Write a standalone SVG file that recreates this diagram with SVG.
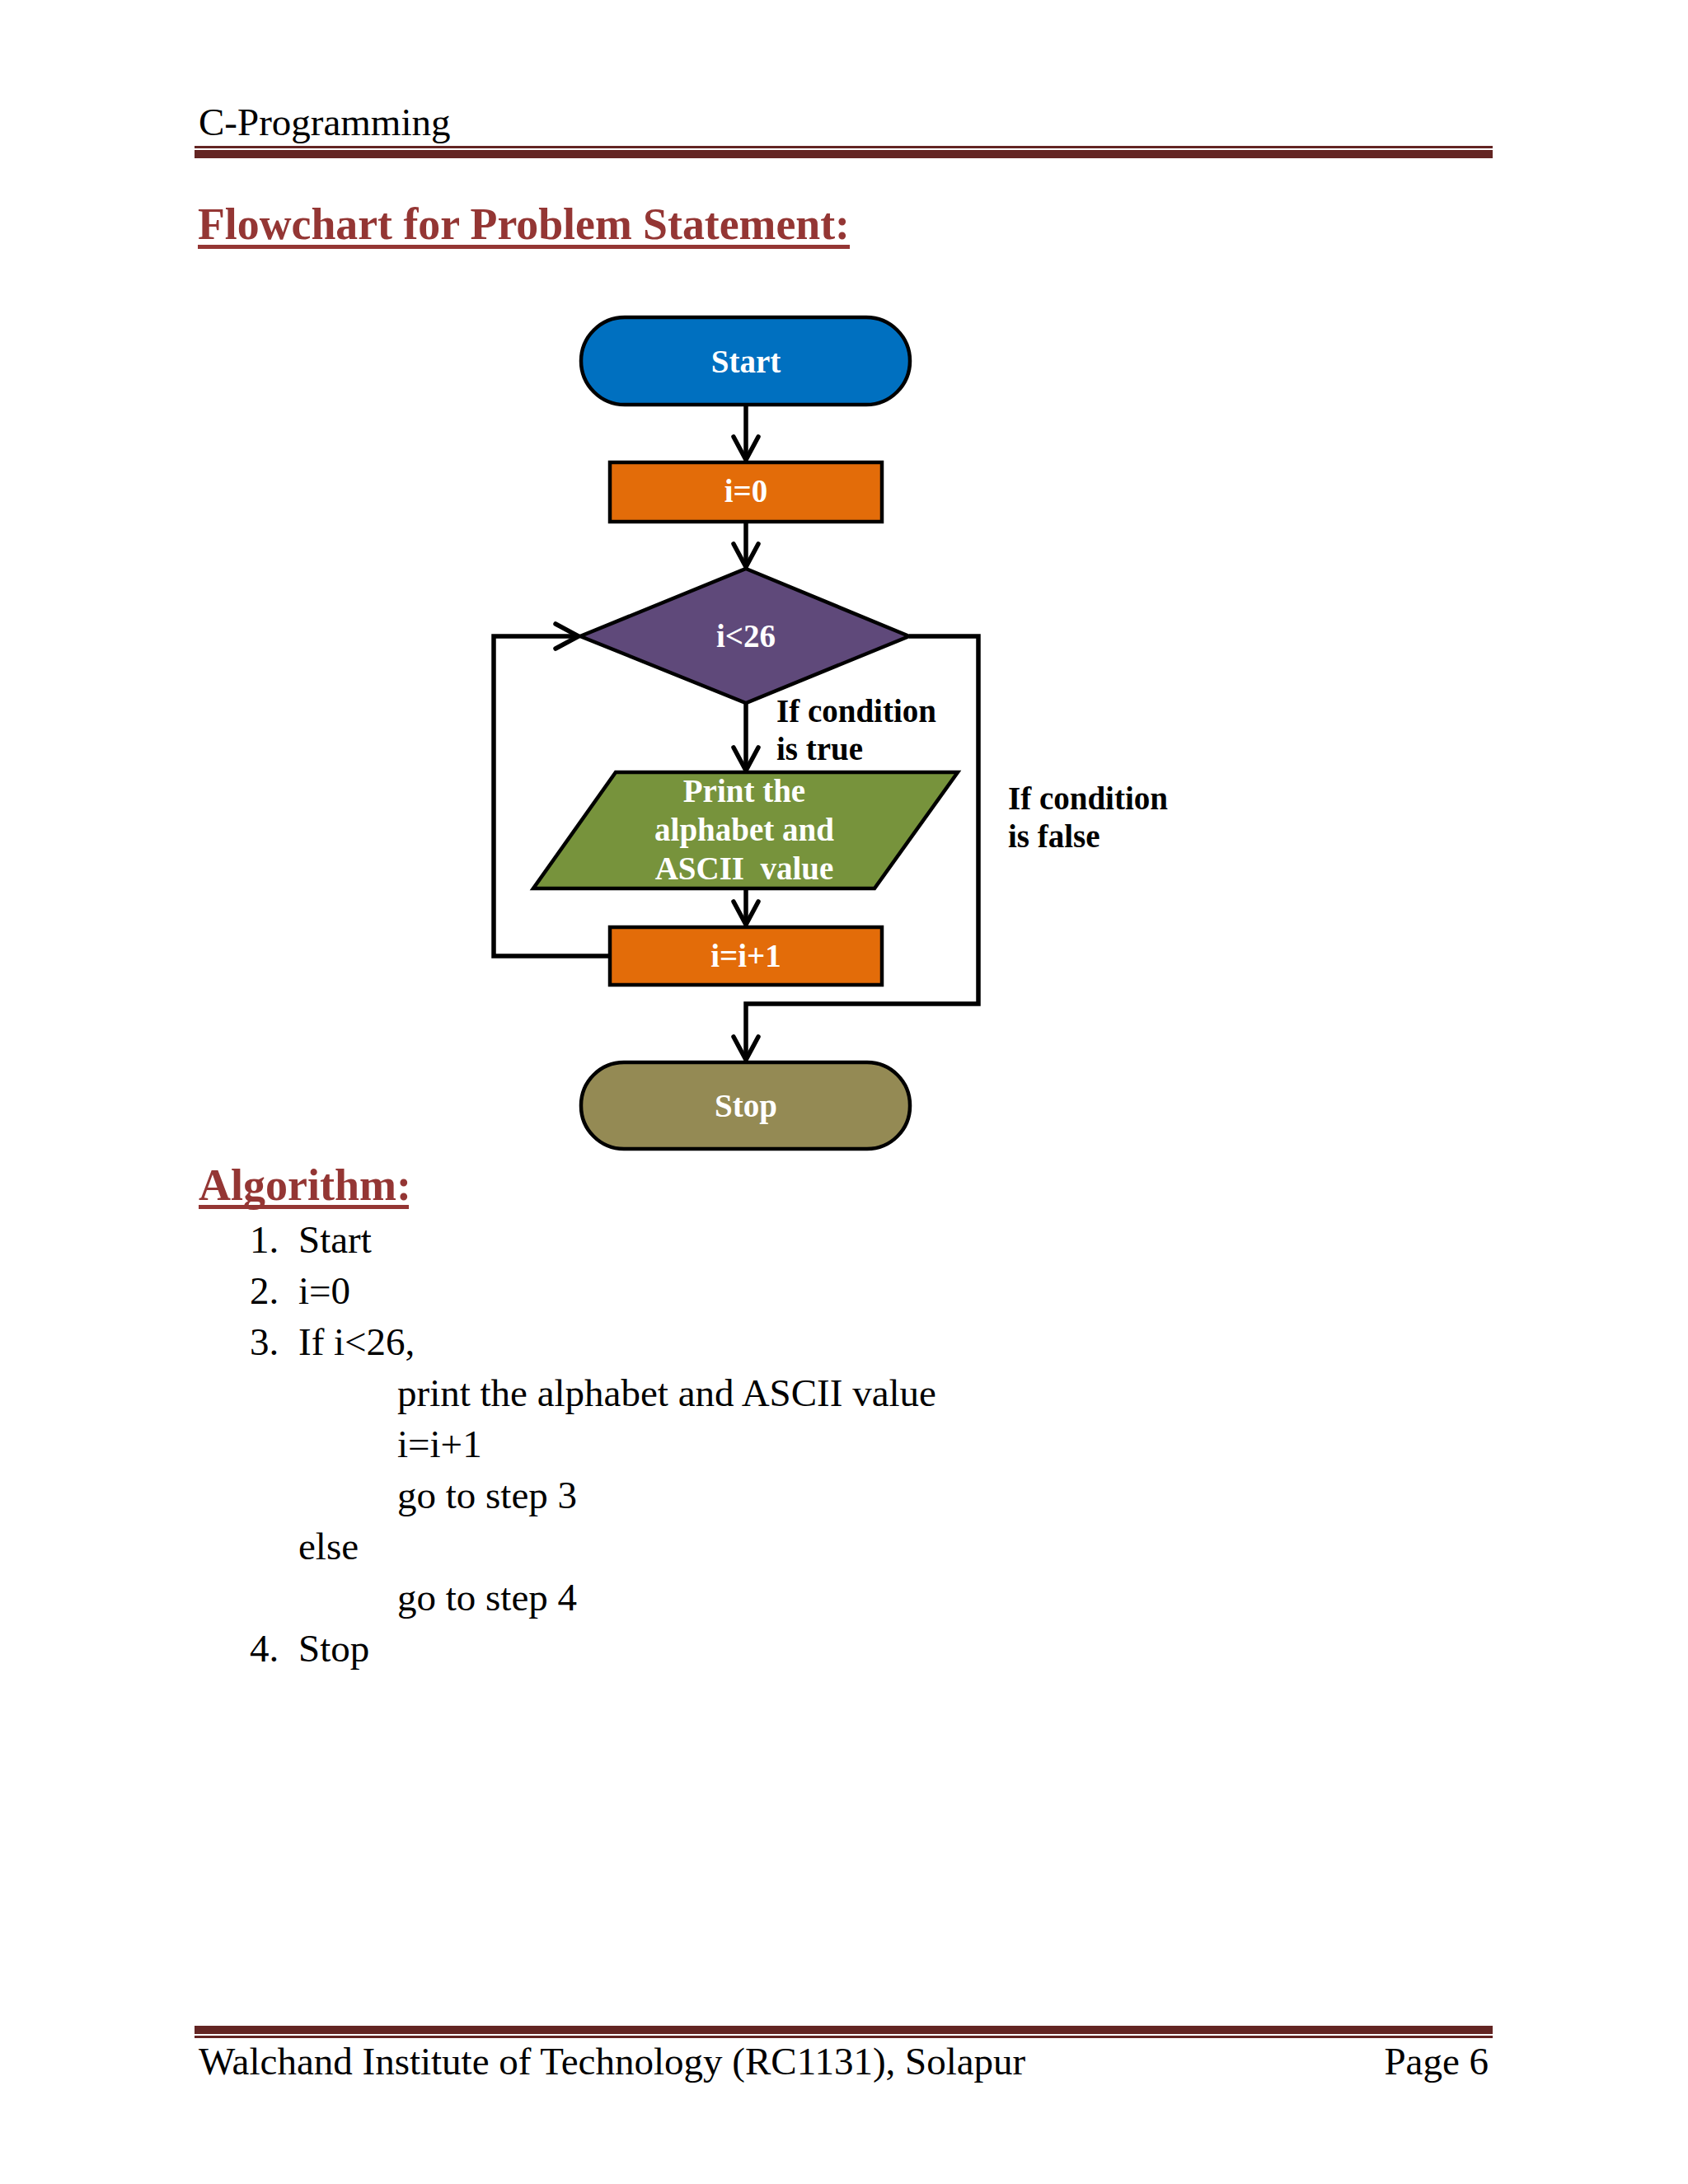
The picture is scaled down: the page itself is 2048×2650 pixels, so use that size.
<svg xmlns="http://www.w3.org/2000/svg" width="2048" height="2650" viewBox="0 0 2048 2650">
<defs>
<style>
.doc{font-family:"Liberation Serif","Times New Roman",serif;font-size:47px;fill:#000}
.head{font-family:"Liberation Serif","Times New Roman",serif;font-size:54px;font-weight:bold;fill:#943634}
.nt{font-family:"Liberation Serif","Times New Roman",serif;font-size:39px;font-weight:bold;fill:#fff;text-anchor:middle}
.lb{font-family:"Liberation Serif","Times New Roman",serif;font-size:39px;font-weight:bold;fill:#000}
.sh{stroke:#000;stroke-width:4.5}
.cn{fill:none;stroke:#000;stroke-width:5.5;stroke-linejoin:miter}
.rule{fill:#632523}
</style>
<marker id="arr" markerUnits="userSpaceOnUse" markerWidth="40" markerHeight="40" viewBox="-32 -20 40 40" refX="0" refY="0" orient="auto" overflow="visible">
<path d="M-28,-15 L0,0 L-28,15" fill="none" stroke="#000" stroke-width="5.5" stroke-linecap="round" stroke-linejoin="miter"/>
</marker>
</defs>
<rect width="2048" height="2650" fill="#fff"/>

<g id="header">
<text class="doc" x="241" y="164">C-Programming</text>
<rect class="rule" x="236" y="177" width="1575" height="3"/>
<rect class="rule" x="236" y="182" width="1575" height="10"/>
</g>

<g id="title">
<text class="head" x="240" y="290" textLength="791" lengthAdjust="spacingAndGlyphs">Flowchart for Problem Statement:</text>
<rect x="240" y="297" width="791" height="5" fill="#943634"/>
</g>

<g id="connectors">
<path class="cn" d="M905,492 V558" marker-end="url(#arr)"/>
<path class="cn" d="M905,634 V688" marker-end="url(#arr)"/>
<path class="cn" d="M905,853 V935" marker-end="url(#arr)"/>
<path class="cn" d="M905,1078 V1122" marker-end="url(#arr)"/>
<path class="cn" d="M740,1160 H599 V772 H702" marker-end="url(#arr)"/>
<path class="cn" d="M1103,772 H1187 V1218 H905 V1286" marker-end="url(#arr)"/>
</g>

<g id="node-start">
<rect class="sh" x="705" y="385" width="399" height="106" rx="53" fill="#0070C0"/>
<text class="nt" x="905" y="452">Start</text>
</g>

<g id="node-init">
<rect class="sh" x="740" y="561" width="330" height="72" fill="#E36C09"/>
<text class="nt" x="905" y="609">i=0</text>
</g>

<g id="node-cond">
<polygon class="sh" points="905,690 1103,772 905,853 704,772" fill="#5F497A"/>
<text class="nt" x="905" y="785">i&lt;26</text>
</g>

<g id="node-print">
<polygon class="sh" points="747,937 1162,937 1061,1078 647,1078" fill="#77933C"/>
<text class="nt" x="903" y="973">Print the</text>
<text class="nt" x="903" y="1020">alphabet and</text>
<text class="nt" x="903" y="1067" xml:space="preserve">ASCII  value</text>
</g>

<g id="node-incr">
<rect class="sh" x="740" y="1125" width="330" height="70" fill="#E36C09"/>
<text class="nt" x="905" y="1173">i=i+1</text>
</g>

<g id="node-stop">
<rect class="sh" x="705" y="1289" width="399" height="105" rx="52" fill="#948A54"/>
<text class="nt" x="905" y="1355">Stop</text>
</g>

<g id="labels">
<text class="lb" x="942" y="876">If condition</text>
<text class="lb" x="942" y="922">is true</text>
<text class="lb" x="1223" y="982">If condition</text>
<text class="lb" x="1223" y="1028">is false</text>
</g>

<g id="algorithm">
<text class="head" x="241" y="1456">Algorithm:</text>
<rect x="241" y="1462" width="255" height="5" fill="#943634"/>
<text class="doc" x="303" y="1520">1.</text><text class="doc" x="362" y="1520">Start</text>
<text class="doc" x="303" y="1582">2.</text><text class="doc" x="362" y="1582">i=0</text>
<text class="doc" x="303" y="1644">3.</text><text class="doc" x="362" y="1644">If i&lt;26,</text>
<text class="doc" x="482" y="1706">print the alphabet and ASCII value</text>
<text class="doc" x="482" y="1768">i=i+1</text>
<text class="doc" x="482" y="1830">go to step 3</text>
<text class="doc" x="362" y="1892">else</text>
<text class="doc" x="482" y="1954">go to step 4</text>
<text class="doc" x="303" y="2016">4.</text><text class="doc" x="362" y="2016">Stop</text>
</g>

<g id="footer">
<rect class="rule" x="236" y="2458" width="1575" height="10"/>
<rect class="rule" x="236" y="2470" width="1575" height="3"/>
<text class="doc" x="241" y="2517">Walchand Institute of Technology (RC1131), Solapur</text>
<text class="doc" x="1806" y="2517" text-anchor="end">Page 6</text>
</g>
</svg>
